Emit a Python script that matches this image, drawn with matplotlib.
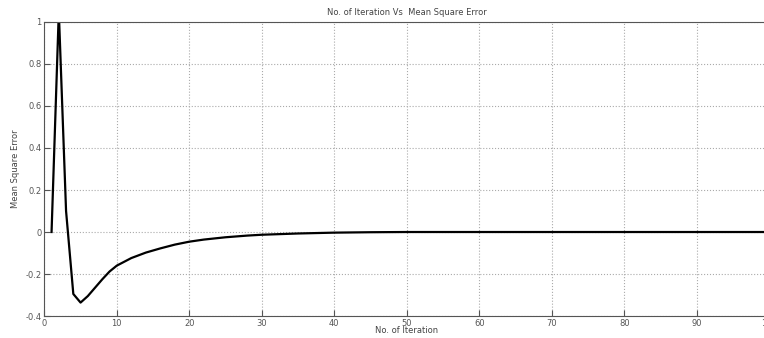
import matplotlib.pyplot as plt

# iteration number and mean square error
iteration = [1, 2, 3, 4, 5, 6, 7, 8, 9, 10, 12, 14, 16, 18, 20, 22, 25, 28, 30,
             35, 40, 45, 50, 60, 70, 80, 90, 100]
mse = [0.0, 1.05, 0.1, -0.295, -0.336, -0.305, -0.265, -0.225, -0.188, -0.16,
       -0.124, -0.098, -0.078, -0.060, -0.046, -0.036, -0.025, -0.017, -0.013,
       -0.007, -0.003, -0.001, 0.0, 0.0, 0.0, 0.0, 0.0, 0.0]

xticks = [0, 10, 20, 30, 40, 50, 60, 70, 80, 90, 100]
yticks = [-0.4, -0.2, 0, 0.2, 0.4, 0.6, 0.8, 1]
ytick_labels = ['-0.4', '-0.2', '0', '0.2', '0.4', '0.6', '0.8', '1']

fig = plt.figure(figsize=(7.64, 3.38), dpi=100)
ax = fig.add_axes([0.058, 0.065, 0.949, 0.870])

ax.plot(iteration, mse, color='black', linewidth=1.6)

ax.set_xlim(0, 100)
ax.set_ylim(-0.4, 1)
ax.set_xticks(xticks)
ax.set_yticks(yticks)
ax.set_yticklabels(ytick_labels)
ax.grid(True, linestyle=':', color='#aaaaaa', linewidth=0.8)
ax.tick_params(direction='in', length=4, labelsize=6, colors='#555555',
               labelcolor='#555555', pad=2)
for s in ax.spines.values():
    s.set_color('#555555')
    s.set_linewidth(0.8)

ax.set_title('No. of Iteration Vs  Mean Square Error', fontsize=6,
             color='#444444', pad=5)
ax.set_xlabel('No. of Iteration', fontsize=6, color='#444444', labelpad=-1)
ax.set_ylabel('Mean Square Error', fontsize=6, color='#444444', labelpad=4)

fig.savefig('out.png', dpi=100)
